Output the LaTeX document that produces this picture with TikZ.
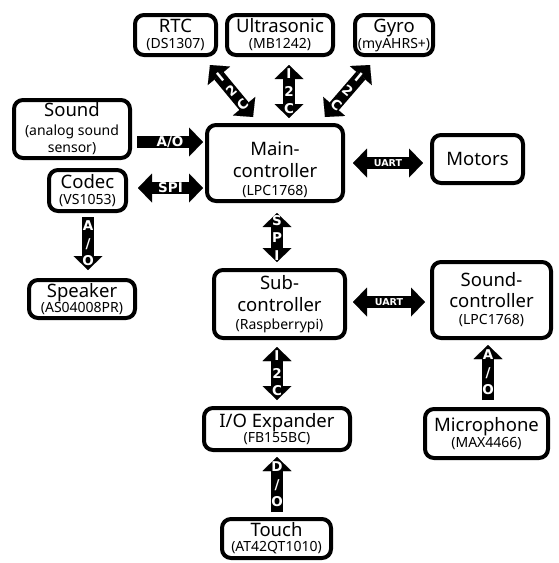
\documentclass[tikz,border=0pt]{standalone}
\usepackage{fontspec}
\setmainfont{Noto Sans}
\newfontfamily\lblfam{DejaVu Sans}
\usetikzlibrary{arrows.meta,calc}
\newcommand\bigf{\fontsize{18.5}{22}\selectfont}
\newcommand\smf{\fontsize{14}{15}\selectfont}
\newcommand\lblf{\lblfam\fontsize{13.5}{17.5}\selectfont\bfseries}
\newcommand\uartf{\lblfam\fontsize{9.5}{11}\selectfont\bfseries}
\begin{document}
\begin{tikzpicture}[x=1pt,y=-1pt,
  box/.style={draw=black,line width=4pt,rounded corners=9pt,inner sep=0pt,outer sep=0pt,align=center,font=\bigf},
  bar/.style={line width=12pt,draw=black,>={Triangle[width=29pt,length=14pt,line width=0.01pt]}},
  lbl/.style={midway,text=white,font=\lblf,align=center,inner sep=0pt}]
\useasboundingbox (0,0) rectangle (559,563);
% boxes
\node[box,minimum width=81pt,minimum height=40pt] (rtc) at (175.5,35) {RTC\\[-6pt]\smf(DS1307)};
\node[box,minimum width=106pt,minimum height=40pt] (ultra) at (280,35) {Ultrasonic\\[-6pt]\smf(MB1242)};
\node[box,minimum width=78pt,minimum height=40pt] (gyro) at (394,35) {Gyro\\[-6pt]\smf(myAHRS+)};
\node[box,minimum width=116pt,minimum height=58pt] (sound) at (72,129) {Sound\\[-3pt]\smf(analog sound\\[-5pt]\smf sensor)};
\node[box,minimum width=77pt,minimum height=41pt] (codec) at (87.5,190.5) {Codec\\[-6pt]\smf(VS1053)};
\node[box,minimum width=106pt,minimum height=38pt] (speaker) at (82,299) {Speaker\\[-7pt]\smf(AS04008PR)};
\node[box,minimum width=136pt,minimum height=76pt] (main) at (275,163) {\rule{0pt}{27pt}Main-\\controller\\[-4pt]\smf(LPC1768)};
\node[box,minimum width=91pt,minimum height=48pt] (motors) at (477.5,159) {Motors};
\node[box,minimum width=131pt,minimum height=68pt] (sub) at (279.5,304) {Sub-\\controller\\[-4pt]\smf(Raspberrypi)};
\node[box,minimum width=119pt,minimum height=76pt] (sctrl) at (491.5,300) {Sound-\\[-1pt]controller\\[-5pt]\smf(LPC1768)};
\node[box,minimum width=146pt,minimum height=42pt] (io) at (277,429) {I/O Expander\\[-7pt]\smf(FB155BC)};
\node[box,minimum width=109pt,minimum height=39pt] (touch) at (276.5,538.5) {Touch\\[-7pt]\smf(AT42QT1010)};
\node[box,minimum width=123pt,minimum height=49pt] (mic) at (486.5,433.5) {Microphone\\[-6pt]\smf(MAX4466)};
% connectors
\draw[bar,<->] ($(rtc.south)+(34.5,10)$) -- ($(main.north)+(-22,-8)$) node[lbl,rotate=39.6] {I\\2\\C};
\draw[bar,<->] ($(ultra.south)+(9,10)$) -- ($(main.north)+(14,-7)$) node[lbl] {I\\2\\C};
\draw[bar,<->] ($(gyro.south)+(-24,10)$) -- ($(main.north)+(50,-8)$) node[lbl,rotate=-39.6] {I\\2\\C};
\draw[bar,->] ($(sound.east)+(7,13)$) -- ($(main.west)+(-4,-21)$) node[lbl] {A/O};
\draw[bar,<->] ($(codec.east)+(12,-2.5)$) -- ($(main.west)+(-4,25)$) node[lbl] {SPI};
\draw[bar,->] ($(codec.south)+(0.5,6)$) -- ($(speaker.north)+(6,-10)$) node[lbl] {A\\/\\O};
\draw[bar,<->] ($(main.east)+(10,0)$) -- ($(motors.west)+(-9,4)$) node[lbl,font=\uartf] {UART};
\draw[bar,<->] ($(main.south)+(2,12)$) -- ($(sub.north)+(-2.5,-8)$) node[lbl] {S\\P\\I};
\draw[bar,<->] ($(sub.east)+(8,-2)$) -- ($(sctrl.west)+(-7,2)$) node[lbl,font=\uartf] {UART};
\draw[bar,<->] ($(sub.south)+(-2.5,9)$) -- ($(io.north)+(0,-8)$) node[lbl] {I\\2\\C};
\draw[bar,->] ($(touch.north)+(0.5,-7)$) -- ($(io.south)+(0,7)$) node[lbl] {D\\/\\O};
\draw[bar,->] ($(mic.north)+(1.5,-9)$) -- ($(sctrl.south)+(-3.5,7)$) node[lbl] {A\\/\\O};
\end{tikzpicture}
\end{document}
